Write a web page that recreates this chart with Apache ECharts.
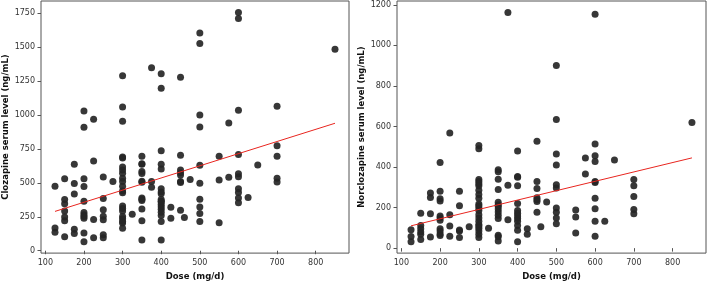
<!DOCTYPE html>
<html>
<head>
<meta charset="utf-8">
<script src="https://cdn.jsdelivr.net/npm/echarts@6/dist/echarts.min.js"></script>
<style>
  html, body { margin: 0; padding: 0; background: #fff; }
  #main { width: 708px; height: 286px; }
</style>
</head>
<body>
<div id="main"></div>
<script>
// dose ticks shared by both panels
var doseTicks = [100, 200, 300, 400, 500, 600, 700, 800];
var clozTicks = [0, 250, 500, 750, 1000, 1250, 1500, 1750];
var norTicks = [0, 200, 400, 600, 800, 1000, 1200];

// clozapine panel: dose / level pairs
var clozDose = [
  125, 125, 125,
  150, 150, 150, 150, 150, 150, 150,
  175, 175, 175, 175, 175,
  200, 200, 200, 200, 200, 200, 200, 200, 200, 200, 200,
  225, 225, 225, 225,
  250, 250, 250, 250, 250, 250, 250,
  275,
  300, 300, 300, 300, 300, 300, 300, 300, 300, 300, 300, 300, 300, 300, 300, 300, 300, 300, 300, 300, 300,
  325,
  350, 350, 350, 350, 350, 350, 350, 350, 350, 350, 350, 350, 350,
  375, 375, 375,
  400, 400, 400, 400, 400, 400, 400, 400, 400, 400, 400, 400, 400, 400, 400, 400, 400, 400,
  425, 425,
  450, 450, 450, 450, 450, 450, 450, 450,
  460, 475,
  500, 500, 500, 500, 500, 500, 500, 500, 500, 500,
  550, 550, 550,
  575, 575,
  600, 600, 600, 600, 600, 600, 600, 600, 600, 600,
  625, 650,
  700, 700, 700, 700, 700,
  850
];
var clozLevel = [
  475, 168, 137,
  531, 377, 346, 293, 248, 221, 103,
  637, 495, 418, 158, 127,
  1030, 910, 531, 474, 365, 281, 265, 252, 240, 130, 67,
  970, 661, 231, 96,
  543, 385, 303, 255, 228, 118, 96,
  510,
  1290, 1060, 955, 692, 684, 618, 595, 572, 534, 510, 476, 440, 428, 329, 312, 293, 252, 235, 216, 204, 166,
  269,
  697, 642, 638, 584, 570, 512, 505, 389, 380, 370, 308, 221, 79,
  1350, 510, 469,
  1305, 1198, 738, 637, 603, 457, 433, 420, 377, 360, 340, 325, 305, 283, 260, 216, 79, 365,
  320, 240,
  1280, 704, 596, 575, 558, 510, 503, 298,
  245, 526,
  1606, 1529, 1000, 913, 630, 498, 380, 322, 274, 216,
  697, 522, 207,
  942, 541,
  1757, 1713, 1036, 709, 567, 545, 457, 430, 389, 353,
  392, 632,
  1065, 774, 697, 534, 507,
  1486
];
var clozFit = [[125, 290], [850, 940]];

// norclozapine panel
var norDose = [
  125, 125, 125,
  150, 150, 150, 150, 150, 150,
  175, 175, 175, 175,
  200, 200, 200, 200, 200, 200, 200, 200, 200, 200, 200,
  225, 225, 225, 225,
  250, 250, 250, 250, 250,
  275,
  300, 300, 300, 300, 300, 300, 300, 300, 300, 300, 300, 300, 300, 300, 300, 300, 300, 300, 300, 300, 300, 300,
  325,
  350, 350, 350, 350, 350, 350, 350, 350, 350, 350, 350, 350, 350, 350,
  375, 375, 375,
  400, 400, 400, 400, 400, 400, 400, 400, 400, 400, 400, 400, 400,
  425, 425,
  450, 450, 450, 450, 450, 450, 450,
  460, 475,
  500, 500, 500, 500, 500, 500, 500, 500, 500, 500,
  550, 550, 550,
  575, 575,
  600, 600, 600, 600, 600, 600, 600, 600, 600, 600,
  625, 650,
  700, 700, 700, 700, 700,
  850
];
var norLevel = [
  91, 57, 32,
  172, 112, 95, 80, 68, 42,
  272, 250, 170, 55,
  422, 281, 244, 232, 158, 150, 137, 96, 85, 70, 62,
  568, 164, 109, 59,
  281, 209, 90, 85, 53,
  106,
  506, 490, 339, 329, 318, 307, 286, 265, 246, 218, 209, 198, 185, 165, 149, 132, 117, 109, 98, 85, 69, 53,
  98,
  387, 377, 340, 289, 226, 214, 206, 193, 178, 162, 146, 64, 56, 35,
  1162, 310, 140,
  479, 353, 349, 308, 220, 185, 172, 159, 146, 133, 112, 88, 32,
  96, 69,
  527, 329, 294, 249, 239, 230, 177,
  106, 228,
  900, 634, 464, 410, 313, 297, 198, 177, 149, 120,
  188, 153, 74,
  445, 365,
  1153, 514, 456, 427, 329, 324, 246, 194, 132, 58,
  133, 434,
  339, 308, 254, 190, 170,
  619
];
var norFit = [[125, 110], [850, 445]];

function pairs(xs, ys) {
  var out = [];
  for (var i = 0; i < xs.length; i++) {
    out.push([xs[i], ys[i]]);
  }
  return out;
}

var myChart = echarts.init(document.getElementById('main'));

var labelStyle = { fontFamily: 'DejaVu Sans', fontSize: 8, color: '#333' };
var nameStyle = { fontFamily: 'DejaVu Sans', fontSize: 8.5, fontWeight: 'bold', color: '#111' };

function plain(v) { return String(v); }

function xAxisFor(gridIndex) {
  return {
    gridIndex: gridIndex,
    type: 'value',
    min: 88.75,
    max: 886.25,
    name: 'Dose (mg/d)',
    nameLocation: 'middle',
    nameGap: 17,
    nameTextStyle: nameStyle,
    axisLine: { show: false },
    axisTick: { show: true, length: 3.5, lineStyle: { color: '#555' }, customValues: doseTicks },
    axisLabel: Object.assign({ margin: 6, customValues: doseTicks, formatter: plain }, labelStyle),
    splitLine: { show: false }
  };
}

function yAxisFor(gridIndex, lo, hi, ticks, title, gap) {
  return {
    gridIndex: gridIndex,
    type: 'value',
    min: lo,
    max: hi,
    name: title,
    nameLocation: 'middle',
    nameGap: gap,
    nameTextStyle: nameStyle,
    axisLine: { show: false },
    axisTick: { show: true, length: 3.5, lineStyle: { color: '#555' }, customValues: ticks },
    axisLabel: Object.assign({ margin: 6, customValues: ticks, formatter: plain }, labelStyle),
    splitLine: { show: false }
  };
}

var dotStyle = { color: '#262626', opacity: 0.92 };

var option = {
  animation: false,
  grid: [
    { left: 41, top: 1, width: 308, height: 257, show: true, borderColor: '#555', borderWidth: 1 },
    { left: 397, top: 1, width: 309, height: 257, show: true, borderColor: '#555', borderWidth: 1 }
  ],
  xAxis: [xAxisFor(0), xAxisFor(1)],
  yAxis: [
    yAxisFor(0, -17.5, 1841.5, clozTicks, 'Clozapine serum level (ng/mL)', 30),
    yAxisFor(1, -24.5, 1218.5, norTicks, 'Norclozapine serum level (ng/mL)', 30)
  ],
  series: [
    {
      type: 'scatter', xAxisIndex: 0, yAxisIndex: 0,
      symbolSize: 7, itemStyle: dotStyle,
      data: pairs(clozDose, clozLevel)
    },
    {
      type: 'line', xAxisIndex: 0, yAxisIndex: 0,
      symbol: 'none', lineStyle: { color: '#e8251f', width: 1 },
      data: clozFit
    },
    {
      type: 'scatter', xAxisIndex: 1, yAxisIndex: 1,
      symbolSize: 7, itemStyle: dotStyle,
      data: pairs(norDose, norLevel)
    },
    {
      type: 'line', xAxisIndex: 1, yAxisIndex: 1,
      symbol: 'none', lineStyle: { color: '#e8251f', width: 1 },
      data: norFit
    }
  ]
};

myChart.setOption(option);
</script>
</body>
</html>
